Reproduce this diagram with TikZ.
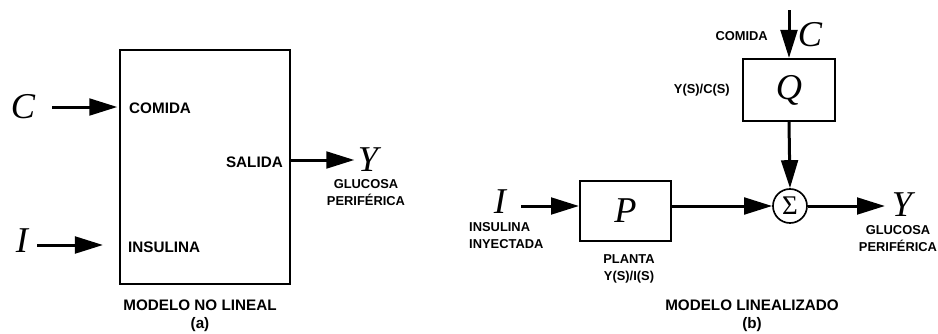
\documentclass[tikz,border=0pt]{standalone}
\usepackage{fontspec}
\setmainfont{Liberation Sans}
\newfontfamily\varfont{Liberation Serif}
\usetikzlibrary{arrows.meta}
\begin{document}
\begin{tikzpicture}[x=0.03cm,y=-0.03cm,
  blockbox/.style={draw,line width=0.06cm,inner sep=0pt},
  arr/.style={line width=0.09cm,-{Triangle[length=0.84cm,width=0.5cm]}},
  var/.style={inner sep=0pt,font=\fontsize{31}{33}\varfont\itshape},
  lblL/.style={inner sep=0pt,font=\fontsize{13}{15.3}\selectfont\bfseries},
  lblR/.style={inner sep=0pt,font=\fontsize{11}{14.5}\selectfont\bfseries,align=center},
  caption/.style={inner sep=0pt,font=\fontsize{13}{15.5}\selectfont\bfseries,align=center}]
\useasboundingbox (0,0) rectangle (938,334);

% (a) nonlinear model
\node[blockbox,minimum width=5.1cm,minimum height=7.02cm] (nl) at (205,167) {};
\node[var] (C1) at (23,107) {C};
\node[var] (I1) at (22,241) {I};
\node[lblL,anchor=west] (comida1) at (129,108) {COMIDA};
\node[lblL,anchor=west] (insulina1) at (128,247) {INSULINA};
\node[lblL,anchor=east] (salida) at (283,162) {SALIDA};
\node[var] (Y1) at (368,160) {Y};
\node[lblR] (gluc1) at (366,193) {GLUCOSA\\PERIFÉRICA};
\node[caption] (capa) at (200,316) {MODELO NO LINEAL\\(a)};
\coordinate (iin) at (103,245);

\draw[arr,shorten <=0.5cm,shorten >=0.05cm] (C1.east) -- (nl.west |- C1);
\draw[arr,shorten <=0.27cm] (I1.east |- iin) -- (iin);
\draw[arr,shorten >=0.1cm] (nl.east |- Y1) -- (Y1.west);

% (b) linearized model
\node[blockbox,minimum width=2.76cm,minimum height=1.86cm,font=\fontsize{31}{33}\varfont\itshape] (Q) at (789,90) {Q};
\node[blockbox,minimum width=2.73cm,minimum height=1.8cm,font=\fontsize{31}{33}\varfont\itshape] (P) at (625.5,211) {P};
\node[draw,circle,line width=0.05cm,minimum size=1.02cm,inner sep=0pt,font=\fontsize{23}{25}\varfont] (sum) at (790,206) {Σ};
\coordinate (top) at (789,10);
\node[var] (C2) at (810,35) {C};
\node[lblR,anchor=east] (comida2) at (768,36) {COMIDA};
\node[lblR,anchor=east] (tfq) at (730,90) {Y(S)/C(S)};
\node[var] (I2) at (500,202) {I};
\node[lblR,align=left,anchor=west] (insulina2) at (469,236) {INSULINA\\INYECTADA};
\node[lblR] (planta) at (629,269) {PLANTA\\Y(S)/I(S)};
\node[var] (Y2) at (902,205) {Y};
\node[lblR] (gluc2) at (898,239) {GLUCOSA\\PERIFÉRICA};
\node[caption] (capb) at (752,316) {MODELO LINEALIZADO\\(b)};

\draw[arr] (top) -- (Q.north);
\draw[arr] (Q.south) -- (sum.north);
\draw[arr,shorten <=0.45cm] (I2.east |- sum) -- (P.west |- sum);
\draw[arr] (P.east |- sum) -- (sum.west);
\draw[arr,shorten >=0.2cm] (sum.east) -- (Y2.west |- sum);
\end{tikzpicture}
\end{document}
